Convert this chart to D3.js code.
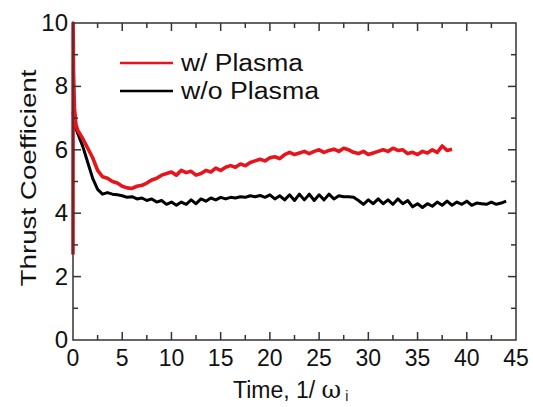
<!DOCTYPE html>
<html><head><meta charset="utf-8">
<script src="https://cdn.jsdelivr.net/npm/d3@7"></script>
<style>body{margin:0;background:#fff}svg{display:block}</style>
</head><body>
<svg id="c" width="533" height="407"></svg>
<script>
const seriesNames = ["w/ Plasma", "w/o Plasma"];
const seriesColors = ["#e8141b", "#000000"];
const xTicks = [0,5,10,15,20,25,30,35,40,45];
const yTicks = [0,2,4,6,8,10];

const timeRed = [0,0.01,0.05,0.15,0.3,0.5,1,1.5,2,2.5,3,3.5,4,4.5,5,5.5,6,6.5,7,7.5,8,8.5,9,9.5,10,10.5,11,11.5,12,12.5,13,13.5,14,14.5,15,15.5,16,16.5,17,17.5,18,18.5,19,19.5,20,20.5,21,21.5,22,22.5,23,23.5,24,24.5,25,25.5,26,26.5,27,27.5,28,28.5,29,29.5,30,30.5,31,31.5,32,32.5,33,33.5,34,34.5,35,35.5,36,36.5,37,37.5,38,38.5];
const valRed = [2.7,10,8.5,7.3,6.8,6.6,6.35,6.05,5.75,5.35,5.15,5.1,5.0,4.95,4.85,4.8,4.78,4.85,4.88,4.95,5.05,5.1,5.2,5.25,5.3,5.2,5.35,5.28,5.32,5.2,5.25,5.35,5.3,5.42,5.35,5.45,5.5,5.45,5.55,5.5,5.6,5.65,5.7,5.65,5.75,5.78,5.72,5.85,5.92,5.85,5.9,5.95,5.88,5.95,6.0,5.92,5.98,6.02,5.95,6.05,6.0,5.92,5.88,5.95,5.85,5.9,5.95,6.0,5.95,6.05,5.98,6.0,5.88,5.92,5.85,5.95,5.9,6.0,5.92,6.12,5.98,6.02];

const timeBlack = [0,0.25,0.5,1,1.5,2,2.5,3,3.5,4,4.5,5,5.5,6,6.5,7,7.5,8,8.5,9,9.5,10,10.5,11,11.5,12,12.5,13,13.5,14,14.5,15,15.5,16,16.5,17,17.5,18,18.5,19,19.5,20,20.5,21,21.5,22,22.5,23,23.5,24,24.5,25,25.5,26,26.5,27,27.5,28,28.5,29,29.5,30,30.5,31,31.5,32,32.5,33,33.5,34,34.5,35,35.5,36,36.5,37,37.5,38,38.5,39,39.5,40,40.5,41,41.5,42,42.5,43,43.5,44];
const valBlack = [7.2,6.7,6.5,6.1,5.6,5.1,4.75,4.6,4.65,4.6,4.58,4.55,4.5,4.52,4.45,4.48,4.4,4.45,4.35,4.4,4.28,4.35,4.25,4.35,4.28,4.42,4.3,4.45,4.38,4.48,4.42,4.5,4.45,4.5,4.48,4.52,4.5,4.55,4.52,4.56,4.5,4.58,4.45,4.55,4.42,4.58,4.4,4.6,4.42,4.6,4.4,4.58,4.42,4.6,4.45,4.55,4.52,4.52,4.5,4.4,4.28,4.42,4.3,4.45,4.3,4.42,4.28,4.45,4.3,4.4,4.2,4.3,4.18,4.3,4.22,4.35,4.25,4.38,4.25,4.35,4.28,4.38,4.25,4.32,4.3,4.28,4.35,4.28,4.32,4.38];

const svg = d3.select("#c");
const L = 73, R = 516, T = 23, B = 340;
const x = d3.scaleLinear().domain([0,45]).range([L,R]);
const y = d3.scaleLinear().domain([0,10]).range([B,T]);
const axisColor = "#333";
const font = "'Liberation Sans', Arial, sans-serif";

const line = d3.line().x(d=>x(d[0])).y(d=>y(d[1]));
const redData = timeRed.map((t,i)=>[t,valRed[i]]);
const blackData = timeBlack.map((t,i)=>[t,valBlack[i]]);
svg.append("path").datum(blackData).attr("d",line).attr("fill","none")
  .attr("stroke",seriesColors[1]).attr("stroke-width",3).attr("stroke-linejoin","round");
svg.append("path").datum(redData).attr("d",line).attr("fill","none")
  .attr("stroke",seriesColors[0]).attr("stroke-width",3.6).attr("stroke-linejoin","round");

svg.append("rect").attr("x",L).attr("y",T).attr("width",R-L).attr("height",B-T)
  .attr("fill","none").attr("stroke",axisColor).attr("stroke-width",1.5);

const xMinor = d3.range(2.5,45,5);
const yMinor = d3.range(1,10,2);
const tg = svg.append("g").attr("stroke",axisColor).attr("stroke-width",1.5);
xTicks.slice(1,-1).forEach(v=>{
  tg.append("line").attr("x1",x(v)).attr("x2",x(v)).attr("y1",B).attr("y2",B-8);
  tg.append("line").attr("x1",x(v)).attr("x2",x(v)).attr("y1",T).attr("y2",T+8);
});
xMinor.forEach(v=>{
  tg.append("line").attr("x1",x(v)).attr("x2",x(v)).attr("y1",B).attr("y2",B-5);
  tg.append("line").attr("x1",x(v)).attr("x2",x(v)).attr("y1",T).attr("y2",T+5);
});
yTicks.slice(1,-1).forEach(v=>{
  tg.append("line").attr("y1",y(v)).attr("y2",y(v)).attr("x1",L).attr("x2",L+8);
  tg.append("line").attr("y1",y(v)).attr("y2",y(v)).attr("x1",R).attr("x2",R-8);
});
yMinor.forEach(v=>{
  tg.append("line").attr("y1",y(v)).attr("y2",y(v)).attr("x1",L).attr("x2",L+5);
  tg.append("line").attr("y1",y(v)).attr("y2",y(v)).attr("x1",R).attr("x2",R-5);
});

svg.append("g").selectAll("text").data(xTicks).join("text")
  .attr("x",d=>x(d)).attr("y",366).attr("text-anchor","middle")
  .attr("font-family",font).attr("font-size",23).attr("fill","#111").text(d=>d);
svg.append("g").selectAll("text").data(yTicks).join("text")
  .attr("x",68).attr("y",d=>y(d)+8).attr("text-anchor","end")
  .attr("font-family",font).attr("font-size",24).attr("fill","#111").text(d=>d);

svg.append("text").attr("transform","translate(36,178) rotate(-90)")
  .attr("text-anchor","middle").attr("font-family",font).attr("font-size",22)
  .attr("fill","#111").attr("textLength",217).attr("lengthAdjust","spacingAndGlyphs")
  .text("Thrust Coefficient");
const xt = svg.append("text").attr("x",233).attr("y",398)
  .attr("font-family",font).attr("font-size",23).attr("fill","#111");
xt.append("tspan").text("Time, 1/ ");
xt.append("tspan").attr("font-family","'DejaVu Serif', serif").attr("font-size",24).text("ω");
xt.append("tspan").attr("font-size",14).attr("dx",4).attr("dy",3).text("i");

const leg = [[63,0],[91,1]];
leg.forEach(([ly,i])=>{
  svg.append("line").attr("x1",120).attr("x2",173).attr("y1",ly).attr("y2",ly)
    .attr("stroke",seriesColors[i]).attr("stroke-width",2.5);
  svg.append("text").attr("x",181).attr("y",ly+8).attr("font-family",font)
    .attr("font-size",23).attr("fill","#111")
    .attr("textLength", i===0?122:138).attr("lengthAdjust","spacingAndGlyphs")
    .text(seriesNames[i]);
});
</script>
</body></html>
